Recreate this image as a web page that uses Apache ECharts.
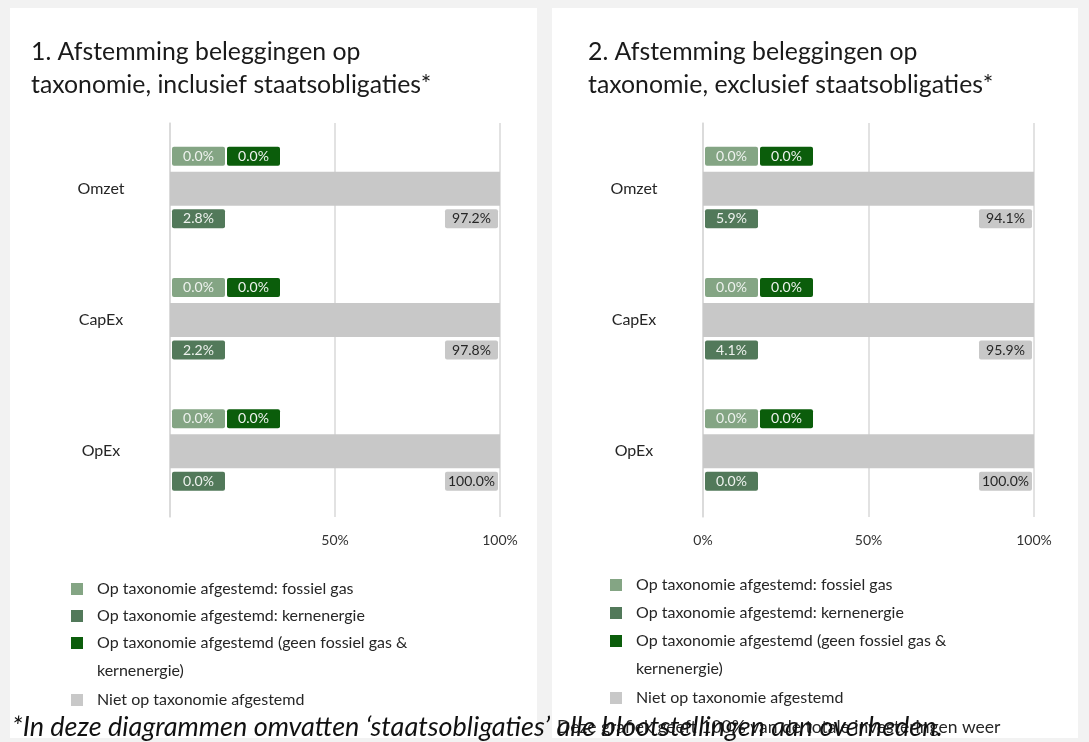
<!DOCTYPE html>
<html>
<head>
<meta charset="utf-8">
<script src="https://cdn.jsdelivr.net/npm/echarts@6/dist/echarts.min.js"></script>
<style>
  html, body { margin: 0; padding: 0; background: #f2f2f2; }
  #main { width: 1089px; height: 742px; }
</style>
</head>
<body>
<div id="main"></div>
<script>
// categorieen en reeksen
const categories = ['Omzet', 'CapEx', 'OpEx']
const seriesNames = [
  'Op taxonomie afgestemd: fossiel gas',
  'Op taxonomie afgestemd: kernenergie',
  'Op taxonomie afgestemd (geen fossiel gas & kernenergie)',
  'Niet op taxonomie afgestemd'
]
const colors = ['#84a584', '#52795a', '#0b5d0b', '#c8c8c8']

// 1. inclusief staatsobligaties
const fossiel1 = [0.0, 0.0, 0.0]
const kern1 = [2.8, 2.2, 0.0]
const geen1 = [0.0, 0.0, 0.0]
const niet1 = [97.2, 97.8, 100.0]

// 2. exclusief staatsobligaties
const fossiel2 = [0.0, 0.0, 0.0]
const kern2 = [5.9, 4.1, 0.0]
const geen2 = [0.0, 0.0, 0.0]
const niet2 = [94.1, 95.9, 100.0]

const titles = [
  '1. Afstemming beleggingen op\ntaxonomie, inclusief staatsobligaties*',
  '2. Afstemming beleggingen op\ntaxonomie, exclusief staatsobligaties*'
]
const footnote = '*In deze diagrammen omvatten \u2018staatsobligaties\u2019 alle blootstellingen aan overheden.'
const note2 = 'Deze grafiek geeft 100% van de totale investeringen weer'

const FONT = 'Lato'
const chart = echarts.init(document.getElementById('main'))

function pct(v) {
  return v.toFixed(1) + '%'
}

function boxLabel(color, textColor, position, extra) {
  return Object.assign({
    show: true,
    position: position,
    align: 'center',
    verticalAlign: 'middle',
    width: 53,
    height: 19,
    lineHeight: 19,
    backgroundColor: color,
    borderRadius: 2,
    color: textColor,
    fontFamily: FONT,
    fontSize: 14
  }, extra || {})
}

function makeSeries(g, fossiel, kern, geen, niet) {
  // groene balken vallen weg achter de grijze balk (in het origineel niet zichtbaar),
  // alleen hun labels tellen
  const base = {
    type: 'bar',
    xAxisIndex: g,
    yAxisIndex: g * 2,
    barWidth: 34,
    barGap: '-100%',
    silent: true,
    z: 2
  }
  // grijze balk loopt over het totaal, label toont alleen het niet-afgestemde deel
  const total = niet.map((v, i) => v + fossiel[i] + kern[i] + geen[i])
  // label-posities relatief t.o.v. de bovenkant van de balk
  return [
    Object.assign({}, base, {
      name: seriesNames[0], data: fossiel, itemStyle: { color: 'transparent' },
      label: boxLabel(colors[0], '#eef2ee', [28.5, -15.5], { formatter: p => pct(p.value) })
    }),
    Object.assign({}, base, {
      name: seriesNames[1], data: kern, itemStyle: { color: 'transparent' },
      label: boxLabel(colors[1], '#eef2ee', [28.5, 47], { formatter: p => pct(p.value) })
    }),
    Object.assign({}, base, {
      name: seriesNames[2], data: geen, itemStyle: { color: 'transparent' },
      label: boxLabel(colors[2], '#eef2ee', [83.5, -15.5], { formatter: p => pct(p.value) })
    }),
    Object.assign({}, base, {
      name: seriesNames[3], data: total, itemStyle: { color: colors[3] }, z: 3,
      label: boxLabel(colors[3], '#262626', ['100%', 47], {
        offset: [-28.5, 0],
        formatter: p => pct(niet[p.dataIndex])
      })
    })
  ]
}

const grids = [
  { left: 170, top: 123, width: 330, height: 394 },
  { left: 703, top: 123, width: 331, height: 394 }
]

const xAxes = grids.map((gr, g) => ({
  type: 'value',
  gridIndex: g,
  min: 0,
  max: 100,
  interval: 50,
  axisLine: { show: false },
  axisTick: { show: false },
  splitLine: { lineStyle: { color: '#d9d9d9', width: 1.5 } },
  axisLabel: {
    formatter: '{value}%',
    showMinLabel: g === 1,
    color: '#333',
    fontFamily: FONT,
    fontSize: 14,
    margin: 16
  }
}))

const yAxes = []
grids.forEach((gr, g) => {
  yAxes.push({
    type: 'category',
    gridIndex: g,
    position: 'left',
    inverse: true,
    data: categories,
    axisLine: { lineStyle: { color: '#d9d9d9', width: 1.5 } },
    axisTick: { show: false },
    axisLabel: { align: 'center', margin: 69, color: '#262626', fontFamily: FONT, fontSize: 16 }
  })
  // alleen streepjes: op de grenzen en midden van elke categorie
  yAxes.push({
    type: 'category',
    gridIndex: g,
    position: 'left',
    inverse: true,
    data: [1, 2, 3, 4, 5, 6],
    axisLine: { show: false },
    axisLabel: { show: false },
    axisTick: { interval: 0, length: 6, lineStyle: { color: '#d9d9d9', width: 1.5 } },
    splitLine: { show: false }
  })
})

// legenda: een blok per item zodat het icoon bij de eerste regel staat
const legendLeft = [71, 610]
const legendCenters = [
  [589, 616, 643, 700],
  [585, 613, 641, 698]
]
const legends = []
legendLeft.forEach((left, g) => {
  seriesNames.forEach((name, i) => {
    const wrap = i === 2
    legends.push({
      left: left,
      top: legendCenters[g][i] - (wrap ? 42 : 14),
      orient: 'vertical',
      padding: 0,
      itemWidth: 12,
      itemHeight: 12,
      selectedMode: false,
      data: [{ name: name, icon: 'rect', itemStyle: { color: colors[i] } }],
      // lege eerste regel: zo valt het icoon op de hoogte van de eerste tekstregel
      formatter: wrap ? () => '\nOp taxonomie afgestemd (geen fossiel gas &\nkernenergie)' : undefined,
      textStyle: {
        fontFamily: FONT,
        fontSize: 16,
        color: '#262626',
        lineHeight: 28,
        padding: [0, 0, 0, 9]
      }
    })
  })
})

const option = {
  backgroundColor: '#f2f2f2',
  animation: false,
  title: titles.map((t, g) => ({
    text: t,
    left: g === 0 ? 31 : 588,
    top: 36,
    padding: 0,
    textStyle: { fontFamily: FONT, fontSize: 24.8, fontWeight: 'normal', lineHeight: 33, color: '#1a1a1a' }
  })),
  grid: grids,
  xAxis: xAxes,
  yAxis: yAxes,
  legend: legends,
  graphic: [
    { type: 'rect', z: -10, shape: { x: 10, y: 8, width: 527, height: 730 }, style: { fill: '#fff' } },
    { type: 'rect', z: -10, shape: { x: 552, y: 8, width: 526, height: 730 }, style: { fill: '#fff' } },
    {
      type: 'text', left: 557, top: 718, z: 1,
      style: { text: note2, font: '17.5px ' + FONT, fill: '#262626' }
    },
    {
      type: 'text', left: 12, top: 714, z: 2,
      style: { text: footnote, font: 'italic 27px ' + FONT, fill: '#111' }
    }
  ],
  series: [].concat(
    makeSeries(0, fossiel1, kern1, geen1, niet1),
    makeSeries(1, fossiel2, kern2, geen2, niet2)
  )
}

chart.setOption(option)
</script>
</body>
</html>
